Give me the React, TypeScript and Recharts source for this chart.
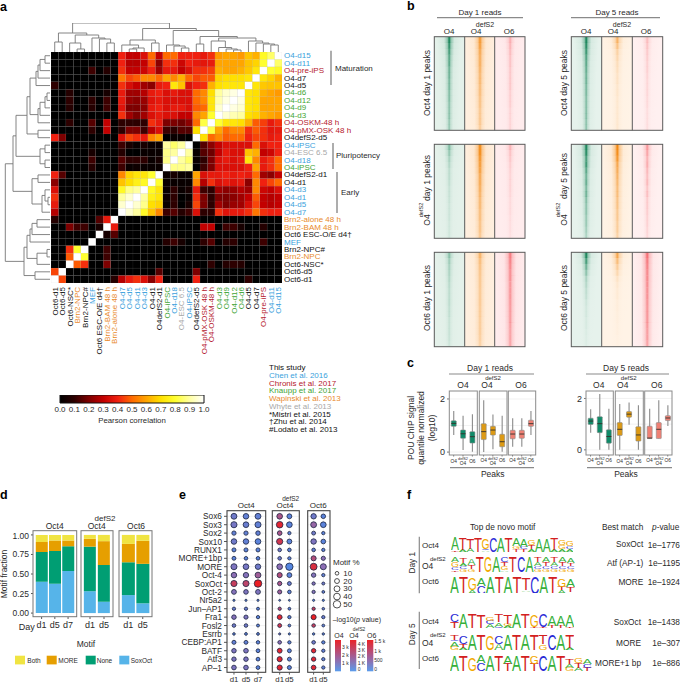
import React from 'react';
import { ScatterChart, Scatter, XAxis, YAxis, ZAxis, Cell, BarChart, Bar, CartesianGrid } from 'recharts';

const FONT = '"Liberation Sans", Arial, sans-serif';
const INK = '#2a2a2a';
const BLUE = '#3a9fdc', RED = '#b5202e', GREEN = '#3fa535', ORANGE = '#e98a2c', GREY = '#a8a8a8', BLACK = '#111';

// ---------- Panel a data ----------
const heatLabels = ['O4-d15','O4-d11','O4-pre-iPS','O4-d7','O4-d5','O4-d6','O4-d12','O4-d9','O4-d3','O4-OSKM-48 h','O4-pMX-OSK 48 h','O4defS2-d5','O4-iPSC','O4-ESC 6.5','O4-d18','O4-iPSC','O4defS2-d1','O4-d1','O4-d3','O4-d1','O4-d5','O4-d7','Brn2-alone 48 h','Brn2-BAM 48 h','Oct6 ESC-O/E d4†','MEF','Brn2-NPC#','Brn2-NPC','Oct6-NSC*','Oct6-d5','Oct6-d1'];
const heatLabelColors = [BLUE,BLUE,RED,BLACK,BLACK,GREEN,GREEN,GREEN,GREEN,RED,RED,BLACK,BLUE,GREY,BLUE,GREEN,BLACK,BLACK,BLUE,BLUE,BLUE,BLUE,ORANGE,ORANGE,BLACK,BLUE,BLACK,ORANGE,BLACK,BLACK,BLACK];
const heatUpper = [
  [100,85,78,62,65,58,60,60,58,42,38,40,40,40,50,50,30,50,35,30,30,40,0,0,0,0,0,0,0,0,0],
  [100,80,68,65,60,60,60,60,38,37,38,40,32,42,42,22,45,30,28,28,40,0,0,0,0,0,0,0,0,0],
  [100,72,66,62,60,60,62,44,42,42,35,30,38,38,25,40,32,30,30,42,0,8,0,12,0,0,0,0,0],
  [100,72,70,70,70,68,48,48,45,50,62,55,60,50,55,55,48,45,52,0,0,0,0,0,0,0,0,0],
  [100,72,72,72,70,62,42,40,35,65,72,40,38,22,25,30,34,42,0,0,0,0,0,0,0,0,10],
  [100,97,95,90,70,55,50,35,35,38,35,40,38,28,25,25,38,0,5,0,0,0,0,8,0,0],
  [100,97,92,72,55,50,35,35,35,35,38,36,24,22,24,38,0,12,0,10,0,0,10,0,0],
  [100,95,72,50,48,35,38,38,35,40,38,22,20,20,36,0,12,0,8,0,0,8,0,0],
  [100,80,60,55,30,30,35,35,38,35,25,20,25,42,0,0,0,0,0,0,0,0,0],
  [100,82,50,22,18,20,20,38,42,10,10,10,10,0,30,0,15,0,0,10,0,0],
  [100,70,15,15,10,12,35,28,12,20,20,10,0,30,0,10,0,0,0,0,0],
  [100,0,2,2,0,60,55,38,42,45,35,0,0,0,0,0,0,0,20,40],
  [100,90,85,90,2,2,5,2,5,12,0,0,0,0,0,0,0,0,0],
  [100,90,88,2,2,2,0,0,8,0,0,0,5,0,0,0,0,0],
  [100,88,5,2,10,10,10,15,0,0,0,12,0,0,0,0,0],
  [100,2,2,2,3,2,12,0,0,0,8,0,0,0,0,0],
  [100,80,72,72,68,55,0,0,0,0,0,0,0,15,40],
  [100,78,75,70,65,0,0,0,0,0,0,0,0,22],
  [100,90,88,78,0,0,0,0,0,0,0,0,35],
  [100,95,90,0,0,0,0,0,0,0,0,42],
  [100,95,0,0,0,0,0,0,0,0,38],
  [100,0,0,0,0,0,0,0,0,28],
  [100,38,15,0,0,0,0,0,8],
  [100,5,0,12,12,20,0,0],
  [100,0,0,0,0,0,0],
  [100,0,0,0,0,0],
  [100,80,42,0,0],
  [100,48,0,0],
  [100,0,0],
  [100,45],
  [100],
];
// merges: left position, left height, right position, right height, join height
const topMerges = [
  [0,0,1,0,10],[3,0,4,0,3],[2,0,3.5,3,9],[7,0,8,0,9],[6,0,7.5,9,13],[5,0,6.75,13,14],[2.75,9,5.9,14,17],[0.5,10,4.3,17,19],
  [10,0,11,0,3],[10.5,3,12,0,4],[9,0,11.25,4,7],[13,0,14,0,9],[10.1,7,13.5,9,12],
  [17,0,18,0,4],[16,0,17.5,4,6],[15,0,16.75,6,7],[19,0,20,0,8],
  [24,0,25,0,2],[23,0,24.5,2,3],[22,0,23.75,3,4.5],[21,0,22.9,4.5,11],
  [29,0,30,0,7],[28,0,29.5,7,8],[27,0,28.75,8,9],[26,0,27.9,9,11],[22,11,27,11,14],[19.5,8,24.5,14,15.5],[15.9,7,22,15.5,21.5],[11.8,12,19,21.5,23.5],[2.4,19,15.4,23.5,29],
];
const leftMerges = [
  [0,0,1,0,5],[0.5,5,2,0,10],[1.25,10,3,0,12],[2.1,12,4,0,14],
  [5,0,6,0,3],[5.5,3,7,0,5],[6.25,5,8,0,10],[7.1,10,9,0,12],[10,0,11,0,12],
  [3,14,7.9,12,20],[5.5,20,10.5,12,23],[12,0,13,0,5],[14,0,15,0,5],[12.5,5,14.5,5,10],[8,23,13.5,10,34],
  [16,0,17,0,12],[19,0,20,0,2],[18,0,19.5,2,5],[18.75,5,21,0,8],[16.5,12,19.9,8,18],[10.75,34,18.2,18,37],
  [22,0,23,0,13],[22.5,13,24,0,18],[23.25,18,25,0,20],[26,0,27,0,3],[26.5,3,28,0,13],[24.1,20,27.2,13,23],[29,0,30,0,15],[25.7,23,29.5,15,26],[14.5,37,27.6,26,44.7],
];
const colorbarTicks = [0,0.1,0.2,0.3,0.4,0.5,0.6,0.7,0.8,0.9,1];
const studies = [['This study',BLACK],['Chen et al. 2016',BLUE],['Chronis et al. 2017',RED],['Knaupp et al. 2017',GREEN],['Wapinski et al. 2013',ORANGE],['Whyte et al. 2013',GREY],['*Mistri et al. 2015',BLACK],['†Zhu et al. 2014',BLACK],['#Lodato et al. 2013',BLACK]];

// ---------- Panel b data: peak signal by rank bin, top to bottom ----------
const peakSpreadNarrow = [0.85,0.8,0.78,0.75,0.72,0.72,0.7,0.7,0.7,0.68,0.68,0.68,0.66,0.66,0.65,0.65];
const peakSpreadWide = [1,1,1,0.98,0.98,0.96,0.96,0.95,0.95,0.95,0.95,0.93,0.93,0.92,0.92,0.9];
const b11 = [1,.9,.8,.7,.7,.6,.6,.55,.55,.5,.5,.45,.45,.45,.4,.4];
const b12 = [.85,.8,.7,.65,.65,.6,.55,.55,.5,.5,.45,.45,.4,.4,.4,.35];
const b13 = [.5,.45,.4,.35,.35,.3,.3,.3,.3,.25,.25,.25,.2,.2,.2,.2];
const b14 = [1,.95,.85,.75,.7,.65,.6,.6,.55,.55,.5,.5,.5,.5,.45,.45];
const b15 = [.6,.45,.3,.25,.2,.18,.15,.15,.12,.12,.1,.1,.1,.1,.1,.1];
const b16 = [.4,.35,.3,.28,.25,.25,.22,.2,.2,.2,.18,.18,.15,.15,.15,.15];
const b21 = [.5,.4,.3,.25,.2,.2,.18,.15,.15,.14,.12,.12,.12,.1,.1,.1];
const b22 = [1,1,.9,.85,.8,.7,.7,.65,.6,.55,.55,.5,.5,.45,.45,.4];
const b23 = [.45,.35,.3,.25,.22,.2,.2,.2,.18,.15,.15,.15,.12,.12,.12,.1];
const b24 = [1,.95,.8,.85,.7,.6,.65,.55,.6,.5,.45,.45,.4,.4,.35,.3];
const b25 = [1,.95,.85,.7,.65,.6,.55,.5,.5,.45,.45,.4,.4,.35,.35,.3];
const b26 = [.7,.6,.5,.55,.45,.4,.45,.35,.4,.3,.3,.28,.25,.25,.22,.2];
const b31 = [.45,.35,.3,.28,.25,.22,.2,.2,.2,.18,.18,.15,.15,.15,.14,.12];
const b32 = [.6,.5,.45,.42,.4,.4,.38,.38,.38,.36,.36,.35,.35,.35,.32,.3];
const b33 = [.9,.85,.8,.75,.75,.7,.7,.7,.68,.66,.65,.65,.62,.6,.6,.58];
const b34 = [1,.8,.6,.45,.3,.25,.2,.18,.12,.1,.1,.08,.08,.06,.05,.05];
const b35 = [.7,.5,.35,.25,.15,.1,.08,.08,.05,.05,.04,.04,.03,.03,.02,.02];
const b36 = [1,.9,.85,.8,.8,.78,.75,.75,.72,.7,.7,.7,.68,.65,.65,.6];

// ---------- Panel c data: low, q1, median, q3, high ----------
const boxPeaks = ['O4','dO4','O6'];
const c1a = [[.64,.97,1.08,1.18,1.55],[.08,.52,.69,.83,1.37],[.01,.34,.58,.77,1.42]];
const c1b = [[0,.47,.77,1.07,1.95],[.11,.64,.83,.97,1.42],[.01,.2,.39,.67,1.37]];
const c1c = [[.2,.5,.68,.82,1.27],[.2,.52,.68,.82,1.27],[.64,.97,1.07,1.2,1.55]];
const c2a = [[.67,.99,1.12,1.23,1.58],[0,.67,1.02,1.29,2.17],[0,.26,.52,.78,1.6]];
const c2b = [[0,.56,.8,1.06,1.78],[.98,1.27,1.39,1.49,1.84],[0,.34,.58,.9,1.74]];
const c2c = [[.44,.44,.46,.92,1.6],[.44,.44,.8,1.06,1.93],[.93,1.14,1.24,1.33,1.74]];

// ---------- Panel d data ----------
const motifClasses = ['soxoct','none','more','both'];
const dOct4 = [{ day:'d1', soxoct:.40, none:.38, more:.13, both:.09 },{ day:'d5', soxoct:.375, none:.42, more:.135, both:.07 },{ day:'d7', soxoct:.54, none:.315, more:.075, both:.07 }];
const dDefS2 = [{ day:'d1', soxoct:.28, none:.57, more:.10, both:.05 },{ day:'d5', soxoct:.145, none:.47, more:.305, both:.08 }];
const dOct6 = [{ day:'d1', soxoct:.23, none:.42, more:.235, both:.115 },{ day:'d5', soxoct:.125, none:.505, more:.295, both:.075 }];

// ---------- Panel e data ----------
const motifNames = ['Sox6','Sox3','Sox2','Sox10','RUNX1','MORE+1bp','MORE','Oct-4','SoxOct','Oct-2','Nr5a2','Jun–AP1','Fra1','Fosl2','Esrrb','CEBP:AP1','BATF','Atf3','AP–1'];
const pctOct4 = [[30,27,30],[33,28,32],[15,15,17],[27,26,28],[13,13,13],[12,10,10],[32,28,26],[26,25,30],[33,33,50],[20,18,20],[2,2,2],[8,8,6],[17,14,8],[10,10,6],[4,5,5],[13,12,9],[17,18,11],[16,17,11],[18,18,11]];
const sigOct4 = [[.3,.2,.2],[.35,.25,.2],[.2,.2,.2],[.3,.2,.15],[.15,.15,.15],[.15,.15,.15],[.4,.35,.3],[.5,.45,.6],[.8,.75,1],[.45,.4,.4],[.1,.1,.1],[.25,.25,.15],[.45,.4,.15],[.3,.3,.15],[.15,.15,.15],[.2,.2,.15],[.4,.4,.15],[.4,.4,.15],[.4,.4,.15]];
const pctDefS2 = [[28,20],[38,28],[18,8],[34,20],[10,10],[10,8],[28,48],[22,20],[15,12],[14,10],[1,1],[8,5],[20,8],[12,5],[2,2],[10,8],[20,12],[22,12],[23,13]];
const sigDefS2 = [[.65,.15],[.95,.15],[.65,.15],[.85,.15],[.3,.15],[.3,.15],[.5,.1],[.7,.15],[.65,.25],[.6,.15],[.1,.1],[.7,.15],[.95,.15],[.85,.15],[.3,.1],[.5,.15],[.95,.15],[.95,.15],[.95,.15]];
const pctOct6 = [[25,17],[30,28],[12,8],[26,18],[10,8],[22,14],[42,32],[16,8],[8,6],[8,5],[2,2],[8,4],[22,8],[10,5],[3,3],[10,8],[16,8],[16,8],[18,8]];
const sigOct6 = [[.3,.15],[.55,.15],[.3,.15],[.4,.15],[.2,.15],[.7,.5],[.9,.5],[.45,.2],[.45,.3],[.45,.2],[.1,.1],[.8,.25],[1,.25],[.8,.2],[.15,.15],[.3,.15],[.95,.2],[.95,.2],[.95,.2]];
const sizeLegend = [10,20,30,40,50];

// ---------- Panel f data: each position lists letter and height, tallest first ----------
const logo1 = [[['A',.85],['T',.1]],[['T',.8],['A',.15]],[['T',.72],['A',.22]],[['T',.95]],[['G',.7],['C',.1],['A',.1]],[['C',1]],[['A',1]],[['T',1]],[['A',.55],['G',.2],['T',.2]],[['A',.55],['C',.15],['T',.2]],[['G',.35],['T',.25],['A',.2]],[['A',.9]],[['A',.9]],[['T',.8],['A',.15]],[['G',.32],['G',.28],['A',.2]],[['G',.35],['C',.2],['A',.2]]];
const logo2 = [[['A',.3],['G',.3],['C',.2],['T',.1]],[['T',.35],['A',.2],['C',.2],['G',.15]],[['A',.4],['T',.25],['G',.2]],[['T',1]],[['G',1]],[['A',1]],[['C',.3],['T',.25],['G',.25],['A',.1]],[['T',1]],[['C',1]],[['A',1]],[['T',.3],['A',.25],['C',.2],['G',.15]],[['A',.3],['T',.25],['C',.2],['G',.15]],[['T',.3],['A',.25],['C',.2],['G',.15]],[['A',.3],['T',.25],['C',.2],['G',.15]],[['A',.3],['T',.2],['C',.2],['G',.15]]];
const logo3 = [[['A',1]],[['T',1]],[['G',.7],['A',.2]],[['A',.5],['C',.45]],[['A',1]],[['T',1]],[['A',1]],[['T',1]],[['T',.75],['A',.1],['C',.1]],[['C',1]],[['A',1]],[['T',1]],[['G',.5],['T',.2],['A',.2]],[['A',.5],['T',.3],['C',.1]]];
const logo4 = [[['C',.55],['T',.4]],[['A',.95]],[['T',.95]],[['T',.9]],[['G',.3],['C',.25],['A',.25]],[['T',.5],['A',.3],['C',.1]],[['T',.6],['G',.15],['A',.15]],[['A',1]],[['T',1]],[['G',.75],['T',.1]],[['C',.85],['T',.1]],[['A',.7],['T',.15]],[['A',.7],['T',.15]],[['A',.75],['T',.1]]];
const logo5 = [[['T',.3],['C',.1],['A',.35],['G',.2]],[['C',.5],['T',.25],['A',.15]],[['A',1]],[['T',1]],[['G',.9]],[['C',.5],['A',.4]],[['A',1]],[['T',1]],[['A',1]],[['T',1]],[['T',.55],['G',.35]],[['C',1]],[['A',1]],[['T',.8],['A',.15]]];
const logo6 = [[['A',1]],[['T',1]],[['G',.85]],[['A',.45],['C',.5]],[['A',1]],[['T',1]],[['A',.5],['T',.45]],[['A',1]],[['T',1]],[['G',.5],['T',.45]],[['C',1]],[['A',1]],[['T',1]],[['T',.3],['A',.25],['G',.2]],[['G',.35],['T',.3],['A',.2]],[['A',.3],['C',.25],['T',.2]]];

// ---------- Helpers ----------
const NOM = { top: 0, right: 0, bottom: 0, left: 0 };
const Box = ({ l, t, children }: any) => <div style={{ position: 'absolute', left: l, top: t }}>{children}</div>;

const heatStops: [number, number[]][] = [[0,[0,0,0]],[.1,[45,0,0]],[.2,[125,0,0]],[.3,[195,0,0]],[.4,[240,32,16]],[.5,[255,106,0]],[.6,[255,165,0]],[.7,[255,224,0]],[.8,[255,255,48]],[.9,[255,255,160]],[1,[255,255,255]]];
function heatColor(v: number) {
  for (let i = 1; i < heatStops.length; i++) {
    if (v <= heatStops[i][0]) {
      const [a, ca] = heatStops[i - 1]; const [b, cb] = heatStops[i];
      const t = (v - a) / (b - a);
      return `rgb(${ca.map((c, j) => Math.round(c + (cb[j] - c) * t)).join(',')})`;
    }
  }
  return '#fff';
}
function sigColor(t: number) {
  const a = [70,140,235], m = [140,110,180], b = [235,30,35];
  const [p, q, u] = t < .5 ? [a, m, t * 2] : [m, b, (t - .5) * 2];
  return `rgb(${p.map((c, j) => Math.round(c + (q[j] - c) * u)).join(',')})`;
}

const heatCells: any[] = [];
heatUpper.forEach((row, i) => row.forEach((v, off) => {
  const k = i + off;
  heatCells.push({ col: 30 - k, row: i, v: v / 100 });
  if (k !== i) heatCells.push({ col: 30 - i, row: k, v: v / 100 });
}));
const idx31 = heatLabels.map((_, i) => i);

const Heatmap = () => {
  const cell = 231 / 31;
  return (
    <ScatterChart width={231 + 100} height={231 + 92} margin={{ top: 0, right: 38, bottom: 0, left: 0 }}>
      <XAxis type="number" dataKey="col" domain={[-.5, 30.5]} ticks={idx31} interval={0} axisLine={false} tickLine={false} height={92} allowDataOverflow
        tick={(p: any) => { const lab = 30 - p.payload.value; return <text x={p.x + 0.5} y={p.y - 4} transform={`rotate(-90 ${p.x + 0.5} ${p.y - 4})`} textAnchor="end" dominantBaseline="central" fontSize={8} fontFamily={FONT} fill={heatLabelColors[lab]}>{heatLabels[lab]}</text>; }} />
      <YAxis type="number" dataKey="row" orientation="right" reversed domain={[-.5, 30.5]} ticks={idx31} interval={0} axisLine={false} tickLine={false} tickSize={0} tickMargin={0} width={62} allowDataOverflow
        tick={(p: any) => <text x={p.x + 2} y={p.y} dominantBaseline="central" fontSize={8} fontFamily={FONT} fill={heatLabelColors[p.payload.value]}>{heatLabels[p.payload.value]}</text>} />
      <Scatter data={heatCells} isAnimationActive={false}
        shape={(p: any) => <rect x={p.cx - cell / 2} y={p.cy - cell / 2} width={cell} height={cell} fill={heatColor(p.payload.v)} stroke="#777" strokeOpacity={.18} strokeWidth={.4} />} />
    </ScatterChart>
  );
};

const Dendro = ({ merges, w, h, horizontal }: any) => (
  <ScatterChart width={w} height={h} margin={NOM}>
    {horizontal
      ? <XAxis type="number" dataKey="x" domain={[-.5, 30.5]} hide />
      : <XAxis type="number" dataKey="x" domain={[0, 50]} reversed hide />}
    {horizontal
      ? <YAxis type="number" dataKey="y" domain={[0, 29]} hide />
      : <YAxis type="number" dataKey="y" domain={[-.5, 30.5]} reversed hide />}
    {merges.map((m: number[], i: number) => {
      const pts = horizontal
        ? [{ x: m[0], y: m[1] }, { x: m[0], y: m[4] }, { x: m[2], y: m[4] }, { x: m[2], y: m[3] }]
        : [{ x: m[1], y: m[0] }, { x: m[4], y: m[0] }, { x: m[4], y: m[2] }, { x: m[3], y: m[2] }];
      return <Scatter key={i} data={pts} line={{ stroke: '#777', strokeWidth: .9 }} lineType="joint" shape={() => <g />} isAnimationActive={false} />;
    })}
  </ScatterChart>
);

const ColorBar = () => (
  <BarChart width={160} height={22} layout="vertical" data={[{ name: 'r', span: [0, 1] }]} margin={{ top: 0, right: 8, bottom: 0, left: 8 }} barCategoryGap={0}>
    <XAxis type="number" domain={[0, 1]} ticks={colorbarTicks} interval={0} axisLine={false} tickSize={2} tickLine={false} height={14}
      tick={(p: any) => <text x={p.x} y={p.y + 2} textAnchor="middle" dominantBaseline="central" fontSize={8} fontFamily={FONT} fill={INK}>{p.payload.value.toFixed(1)}</text>} />
    <YAxis type="category" dataKey="name" hide />
    <Bar dataKey="span" fill="url(#heatGrad)" stroke="#111" strokeWidth={1} isAnimationActive={false} />
  </BarChart>
);

const Tornado = ({ l, t, w, h, vals, grad, spread, bg }: any) => {
  const data = vals.map((v: number, i: number) => ({ rank: i, band: [-spread[i], spread[i]], op: v }));
  return (
    <Box l={l} t={t}>
      <div style={{ width: w, height: h, background: bg }}>
        <BarChart width={w} height={h} layout="vertical" data={data} margin={NOM} barCategoryGap={0}>
          <XAxis type="number" domain={[-1, 1]} hide />
          <YAxis type="category" dataKey="rank" hide />
          <Bar dataKey="band" fill={`url(#${grad})`} isAnimationActive={false}>
            {data.map((d: any, i: number) => <Cell key={i} fill={`url(#${grad})`} fillOpacity={d.op} />)}
          </Bar>
        </BarChart>
      </div>
    </Box>
  );
};

const BoxShape = (p: any) => {
  const { x, y, width, height, payload, color } = p;
  if (!(height > 0)) return <g />;
  const k = height / (payload.hi - payload.lo);
  const Y = (v: number) => y + (payload.hi - v) * k;
  const cx = x + width / 2;
  return (
    <g>
      <line x1={cx} x2={cx} y1={y} y2={y + height} stroke="#8a8a8a" strokeWidth={1.1} />
      <rect x={x} y={Y(payload.q3)} width={width} height={Y(payload.q1) - Y(payload.q3)} fill={color} stroke="#8a8a8a" strokeWidth={.6} rx={.6} />
      <line x1={x} x2={x + width} y1={Y(payload.med)} y2={Y(payload.med)} stroke="#33302a" strokeWidth={.9} />
    </g>
  );
};

const BoxFacet = ({ l, t, w, h, rows, color, axis, domain, yw }: any) => {
  const data = rows.map((r: number[], i: number) => ({ peak: boxPeaks[i], range: [r[0], r[4]], lo: r[0], q1: r[1], med: r[2], q3: r[3], hi: r[4] }));
  return (
    <Box l={l - (axis ? yw : 0)} t={t}>
      <BarChart width={w + (axis ? yw : 0)} height={h + 16} data={data} margin={NOM} barCategoryGap="24%">
        <CartesianGrid vertical={false} horizontalValues={[0, .5, 1, 1.5, 2]} stroke="#ececec" strokeWidth={.7} />
        <XAxis dataKey="peak" height={16} interval={0} axisLine={false} tickLine={{ stroke: '#777' }} tickSize={1.5} tickMargin={0}
          tick={(p: any) => p.payload.value === 'dO4'
            ? <g><text x={p.x} y={p.y + 2.5} textAnchor="middle" dominantBaseline="central" fontSize={3.8} fontFamily={FONT} fill={INK}>defS2</text><text x={p.x} y={p.y + 7} textAnchor="middle" dominantBaseline="central" fontSize={4.8} fontFamily={FONT} fill={INK}>O4</text></g>
            : <text x={p.x} y={p.y + 4.5} textAnchor="middle" dominantBaseline="central" fontSize={4.8} fontFamily={FONT} fill={INK}>{p.payload.value}</text>} />
        <YAxis type="number" domain={domain} ticks={[0, 2]} allowDataOverflow hide={!axis} width={yw} axisLine={false} tickSize={2} tickLine={{ stroke: '#777' }}
          tick={{ fontSize: 9, fontFamily: FONT, fill: INK }} />
        <Bar dataKey="range" isAnimationActive={false}
          shape={(p: any) => <BoxShape {...p} color={color} />} />
      </BarChart>
    </Box>
  );
};

const stackColors: any = { soxoct: '#56b4e9', none: '#009e73', more: '#e69f00', both: '#f0e442' };
const StackFacet = ({ l, t, w, h, data, axis, yw }: any) => (
  <Box l={l - (axis ? yw : 0)} t={t}>
    <BarChart width={w + (axis ? yw : 0)} height={h + 22} data={data} margin={NOM} barCategoryGap="6%">
      <XAxis dataKey="day" height={22} interval={0} padding={{ left: 2, right: 2 }} axisLine={false} tickSize={2} tickLine={{ stroke: '#555' }}
        tick={(p: any) => <text x={p.x} y={p.y + 4} textAnchor="middle" dominantBaseline="central" fontSize={9} fontFamily={FONT} fill={INK}>{p.payload.value}</text>} />
      <YAxis type="number" domain={[-.05, 1.05]} ticks={[0, .25, .5, .75, 1]} allowDataOverflow hide={!axis} width={yw} axisLine={false} tickSize={2} tickLine={{ stroke: '#555' }}
        tickFormatter={(v: number) => v.toFixed(2)} tick={{ fontSize: 8.5, fontFamily: FONT, fill: INK }} />
      {motifClasses.map(c => <Bar key={c} dataKey={c} stackId="m" fill={stackColors[c]} isAnimationActive={false} />)}
    </BarChart>
  </Box>
);

const BubbleFacet = ({ l, t, w, h, pct, sig, days, domain, axis, yw }: any) => {
  const data: any[] = [];
  pct.forEach((row: number[], r: number) => row.forEach((v, c) => data.push({ c, r, pct: v, sig: sig[r][c] })));
  return (
    <Box l={l - (axis ? yw : 0)} t={t}>
      <ScatterChart width={w + (axis ? yw : 0)} height={h + 14} margin={NOM}>
        <CartesianGrid stroke="#ececec" strokeWidth={.7} horizontalValues={motifNames.map((_, i) => i)} verticalValues={days.map((_: string, i: number) => i)} />
        <XAxis type="number" dataKey="c" domain={domain} ticks={days.map((_: string, i: number) => i)} interval={0} height={14} axisLine={false} tickSize={2} tickLine={{ stroke: '#555' }} allowDataOverflow
          tick={(p: any) => <text x={p.x} y={p.y + 3} textAnchor="middle" dominantBaseline="central" fontSize={7.8} fontFamily={FONT} fill={INK}>{days[p.payload.value]}</text>} />
        <YAxis type="number" dataKey="r" reversed domain={[-.63, 18.6]} ticks={motifNames.map((_, i) => i)} interval={0} hide={!axis} width={yw} axisLine={false} tickSize={3} tickLine={{ stroke: '#555' }} allowDataOverflow
          tick={(p: any) => <text x={p.x} y={p.y} textAnchor="end" dominantBaseline="central" fontSize={8.3} fontFamily={FONT} fill={INK}>{motifNames[p.payload.value]}</text>} />
        <ZAxis type="number" dataKey="pct" domain={[0, 50]} range={[2, 44]} />
        <Scatter data={data} isAnimationActive={false}
          shape={(p: any) => <circle cx={p.cx} cy={p.cy} r={Math.sqrt(p.size / Math.PI)} fill={sigColor(p.payload.sig)} stroke="#1c2440" strokeWidth={.8} />} />
      </ScatterChart>
    </Box>
  );
};

const letterColor: any = { A: '#36b03a', C: '#2b2bd6', G: '#f2a900', T: '#d32020' };
const letterWidth: any = { A: .667, C: .722, G: .778, T: .611 };
const Logo = ({ l, t, w, h, motif }: any) => {
  const data = motif.map((stack: any[], i: number) => {
    const row: any = { pos: i };
    [...stack].reverse().forEach((s, k) => { row[`h${k}`] = s[1]; row[`l${k}`] = s[0]; });
    return row;
  });
  return (
    <Box l={l} t={t}>
      <BarChart width={w} height={h} data={data} margin={NOM} barCategoryGap={0}>
        <XAxis dataKey="pos" hide />
        <YAxis type="number" domain={[0, 1]} hide />
        {[0, 1, 2, 3].map(k => (
          <Bar key={k} dataKey={`h${k}`} stackId="s" isAnimationActive={false}
            shape={(p: any) => {
              const ch = p.payload[`l${k}`];
              if (!ch || !(p.height > 0)) return <g />;
              const sx = p.width / (letterWidth[ch] * 10), sy = p.height / 7.2;
              return <text transform={`translate(${p.x},${p.y + p.height}) scale(${sx},${sy})`} fontSize={10} fontFamily={FONT} fill={letterColor[ch]}>{ch}</text>;
            }} />
        ))}
      </BarChart>
    </Box>
  );
};

// ---------- Overlay annotation ----------
const T = ({ x, y, s, fs = 8.5, a = 'middle', rot, fill = INK, w, it }: any) => (
  <text x={x} y={y} fontSize={fs} fontFamily={FONT} textAnchor={a} dominantBaseline="central" fill={fill} fontWeight={w} fontStyle={it}
    transform={rot ? `rotate(${rot} ${x} ${y})` : undefined}>{s}</text>
);
const Ln = ({ x1, y1, x2, y2, c = '#8a8a8a', sw = 1.2 }: any) => <line x1={x1} y1={y1} x2={x2} y2={y2} stroke={c} strokeWidth={sw} />;
const Fr = ({ x, y, w, h, c = '#5a5a5a', sw = 1 }: any) => <rect x={x} y={y} width={w} height={h} fill="none" stroke={c} strokeWidth={sw} />;

const bY = [[36.7, 93.6], [144.3, 94], [252.3, 94.4]];
const bLeftX = [434.3, 464.7, 494.7], bLeftW = [30.4, 30, 30.3];
const bRightX = [571.3, 601.7, 632.3], bRightW = [30.4, 30.6, 30.4];
const bVals = [[b11, b12, b13, b14, b15, b16], [b21, b22, b23, b24, b25, b26], [b31, b32, b33, b34, b35, b36]];
const bGrad = ['gGreen', 'gOrange', 'gPink'];
const bBg = ['#e4f1ea', '#ffefdf', '#ffeced'];
const bBgLight = ['#e6f2ec', '#fff3e6', '#fff0f0'];

export default function App() {
  return (
    <div style={{ position: 'absolute', left: 0, top: 0, width: 680, height: 685, background: '#fff', overflow: 'hidden', fontFamily: FONT }}>
      <svg width={0} height={0} style={{ position: 'absolute' }}>
        <defs>
          <linearGradient id="heatGrad" x1="0" x2="1" y1="0" y2="0">
            {heatStops.map(([o, c]) => <stop key={o} offset={o} stopColor={`rgb(${c.join(',')})`} />)}
          </linearGradient>
          {[['gGreen', '#0b7d4f'], ['gOrange', '#f28205'], ['gPink', '#f4666c']].map(([id, c]) => (
            <linearGradient key={id} id={id} x1="0" x2="1" y1="0" y2="0">
              <stop offset="0" stopColor={c} stopOpacity={0} />
              <stop offset=".3" stopColor={c} stopOpacity={.07} />
              <stop offset=".43" stopColor={c} stopOpacity={.38} />
              <stop offset=".5" stopColor={c} stopOpacity={1} />
              <stop offset=".57" stopColor={c} stopOpacity={.38} />
              <stop offset=".7" stopColor={c} stopOpacity={.07} />
              <stop offset="1" stopColor={c} stopOpacity={0} />
            </linearGradient>
          ))}
          <linearGradient id="legendGrad" x1="0" x2="0" y1="0" y2="1">
            <stop offset="0" stopColor="#ea2327" /><stop offset=".55" stopColor="#a0609a" /><stop offset="1" stopColor="#5a9cec" />
          </linearGradient>
        </defs>
      </svg>

      {/* a */}
      <Box l={51} t={52}><Heatmap /></Box>
      <Box l={51} t={23}><Dendro merges={topMerges} w={231} h={29} horizontal /></Box>
      <Box l={0} t={52}><Dendro merges={leftMerges} w={50} h={231} /></Box>
      <Box l={52} t={395}><ColorBar /></Box>

      {/* b */}
      {bVals.map((row, r) => row.map((vals, i) => {
        const col = i % 3; const right = i >= 3;
        const wide = col === 1 || (r === 2 && col === 2);
        return <Tornado key={`${r}-${i}`} l={right ? bRightX[col] : bLeftX[col]} t={bY[r][0]} w={right ? bRightW[col] : bLeftW[col]} h={bY[r][1]} vals={vals} grad={bGrad[col]} spread={wide ? peakSpreadWide : peakSpreadNarrow} bg={right ? bBgLight[col] : bBg[col]} />;
      }))}

      {/* c */}
      <BoxFacet l={449.3} t={391} w={28} h={64} rows={c1a} color="#0f8a68" axis yw={12} domain={[-.11, 2.3]} />
      <BoxFacet l={479.3} t={391} w={27.7} h={64} rows={c1b} color="#dd9a14" domain={[-.11, 2.3]} />
      <BoxFacet l={508.3} t={391} w={27.4} h={64} rows={c1c} color="#ef8074" domain={[-.11, 2.3]} />
      <BoxFacet l={586} t={391} w={27.3} h={64} rows={c2a} color="#0f8a68" axis yw={12} domain={[-.2, 2.29]} />
      <BoxFacet l={615.3} t={391} w={28} h={64} rows={c2b} color="#dd9a14" domain={[-.2, 2.29]} />
      <BoxFacet l={644.7} t={391} w={27.3} h={64} rows={c2c} color="#ef8074" domain={[-.2, 2.29]} />

      {/* d */}
      <StackFacet l={33} t={530.7} w={43.7} h={86} data={dOct4} axis yw={33} />
      <StackFacet l={81} t={530.7} w={32} h={86} data={dDefS2} />
      <StackFacet l={119} t={530.7} w={33} h={86} data={dOct6} />

      {/* e */}
      <BubbleFacet l={227} t={510.7} w={38.7} h={161.6} pct={pctOct4} sig={sigOct4} days={['d1', 'd5', 'd7']} domain={[-.58, 2.64]} axis yw={67} />
      <BubbleFacet l={272.3} t={510.7} w={27} h={161.6} pct={pctDefS2} sig={sigDefS2} days={['d1', 'd5']} domain={[-.79, 1.99]} />
      <BubbleFacet l={307.7} t={510.7} w={22.3} h={161.6} pct={pctOct6} sig={sigOct6} days={['d1', 'd5']} domain={[-.58, 1.72]} />

      {/* f */}
      <Logo l={451} t={536.7} w={122.3} h={15} motif={logo1} />
      <Logo l={451} t={556} w={124} h={15.7} motif={logo2} />
      <Logo l={450} t={576.7} w={125} h={16.6} motif={logo3} />
      <Logo l={450} t={613.3} w={124} h={15} motif={logo4} />
      <Logo l={450} t={634} w={124} h={16} motif={logo5} />
      <Logo l={450} t={655} w={141.7} h={16} motif={logo6} />

      <svg width={680} height={685} style={{ position: 'absolute', left: 0, top: 0, pointerEvents: 'none' }}>
        {/* panel letters */}
        <T x={0} y={7} s="a" fs={12.5} a="start" w="bold" fill="#000" />
        <T x={407} y={6} s="b" fs={12.5} a="start" w="bold" fill="#000" />
        <T x={407} y={363} s="c" fs={12.5} a="start" w="bold" fill="#000" />
        <T x={0} y={495} s="d" fs={12.5} a="start" w="bold" fill="#000" />
        <T x={179} y={495} s="e" fs={12.5} a="start" w="bold" fill="#000" />
        <T x={407} y={495} s="f" fs={12.5} a="start" w="bold" fill="#000" />

        {/* a annotations */}
        <Ln x1={331} y1={50.7} x2={331} y2={85} sw={1.4} />
        <T x={335} y={68} s="Maturation" fs={8} a="start" />
        <Ln x1={333} y1={143} x2={333} y2={169} sw={1.4} />
        <T x={336} y={155} s="Pluripotency" fs={8} a="start" />
        <Ln x1={337} y1={172} x2={337} y2={213} sw={1.4} />
        <T x={341} y={192} s="Early" fs={8} a="start" />
        <T x={132} y={420} s="Pearson correlation" fs={7.8} />
        {studies.map(([s, c], i) => <T key={s} x={269} y={367.7 + i * 7.75} s={s} fs={8} a="start" fill={c} />)}

        {/* b annotations */}
        <T x={480} y={12} s="Day 1 reads" fs={8} />
        <Ln x1={437} y1={17.7} x2={523} y2={17.7} />
        <T x={617} y={12} s="Day 5 reads" fs={8} />
        <Ln x1={571} y1={17.7} x2={660} y2={17.7} />
        <T x={449} y={31} s="O4" fs={8} /><T x={485} y={24} s="defS2" fs={7} /><T x={476} y={31} s="O4" fs={8} /><T x={509} y={31} s="O6" fs={8} />
        <T x={586} y={31} s="O4" fs={8} /><T x={622} y={24} s="defS2" fs={7} /><T x={613} y={31} s="O4" fs={8} /><T x={646} y={31} s="O6" fs={8} />
        <T x={427} y={83} s="Oct4 day 1 peaks" rot={-90} />
        <T x={427} y={178} s="day 1 peaks" rot={-90} /><T x={427} y={220} s="O4" rot={-90} /><T x={421} y={210} s="defS2" fs={5.5} rot={-90} />
        <T x={427} y={298} s="Oct6 day 1 peaks" rot={-90} />
        <T x={564} y={83} s="Oct4 day 5 peaks" rot={-90} />
        <T x={564} y={176} s="day 5 peaks" rot={-90} /><T x={564} y={220} s="O4" rot={-90} /><T x={558} y={210} s="defS2" fs={5.5} rot={-90} />
        <T x={564} y={298} s="Oct6 day 5 peaks" rot={-90} />
        {bY.map(([y, h], r) => (
          <g key={r}>
            <Fr x={434.3} y={y} w={90.7} h={h} />
            <Ln x1={464.7} y1={y} x2={464.7} y2={y + h} c="#5a5a5a" sw={1} />
            <Ln x1={494.7} y1={y} x2={494.7} y2={y + h} c="#5a5a5a" sw={1} />
            <Fr x={571.3} y={y} w={91.4} h={h} />
            <Ln x1={601.7} y1={y} x2={601.7} y2={y + h} c="#5a5a5a" sw={1} />
            <Ln x1={632.3} y1={y} x2={632.3} y2={y + h} c="#5a5a5a" sw={1} />
          </g>
        ))}

        {/* c annotations */}
        <T x={490} y={367.7} s="Day 1 reads" fs={8.5} />
        <Ln x1={449} y1={374} x2={534} y2={374} />
        <T x={626} y={367.7} s="Day 5 reads" fs={8.5} />
        <Ln x1={586} y1={374} x2={669} y2={374} />
        <T x={493} y={378} s="defS2" fs={6} /><T x={463} y={385} s="O4" fs={8.5} /><T x={487} y={385} s="O4" fs={8.5} /><T x={521} y={385} s="O6" fs={8.5} />
        <T x={628.7} y={378} s="defS2" fs={6} /><T x={598.7} y={385} s="O4" fs={8.5} /><T x={622.7} y={385} s="O4" fs={8.5} /><T x={656.7} y={385} s="O6" fs={8.5} />
        <T x={411} y={428} s="POU ChIP signal" rot={-90} /><T x={421} y={428} s="quantile normalized" rot={-90} /><T x={431.7} y={428} s="(log10)" rot={-90} />
        <Fr x={449.3} y={391} w={28} h={64} c="#8a8a8a" /><Fr x={479.3} y={391} w={27.7} h={64} c="#8a8a8a" /><Fr x={508.3} y={391} w={27.4} h={64} c="#8a8a8a" />
        <Fr x={586} y={391} w={27.3} h={64} c="#8a8a8a" /><Fr x={615.3} y={391} w={28} h={64} c="#8a8a8a" /><Fr x={644.7} y={391} w={27.3} h={64} c="#8a8a8a" />
        <Ln x1={450} y1={467.7} x2={534} y2={467.7} /><Ln x1={587} y1={467.7} x2={672} y2={467.7} />
        <T x={492.7} y={474} s="Peaks" fs={8.5} /><T x={626} y={474} s="Peaks" fs={8.5} />

        {/* d annotations */}
        <T x={4} y={574} s="Motif fraction" rot={-90} fs={8.5} />
        <T x={54.7} y={526} s="Oct4" fs={8.5} /><T x={105} y={518} s="defS2" fs={8} /><T x={96.7} y={526} s="Oct4" fs={8.5} /><T x={136} y={526} s="Oct6" fs={8.5} />
        <T x={26.7} y={627} s="Day" fs={9} />
        <Fr x={33} y={530.7} w={43.7} h={86} c="#777" /><Fr x={81} y={530.7} w={32} h={86} c="#777" /><Fr x={119} y={530.7} w={33} h={86} c="#777" />
        <T x={86} y={644} s="Motif" fs={8.5} />
        {[[15, '#f0e442', 'Both', 27.3], [46.7, '#e69f00', 'MORE', 58.3], [85.7, '#009e73', 'None', 96.7], [119.3, '#56b4e9', 'SoxOct', 130.7]].map(([x, c, s, tx]: any) => (
          <g key={s}><rect x={x} y={655.7} width={10} height={8.7} fill={c} /><T x={tx} y={660.5} s={s} fs={6.5} a="start" /></g>
        ))}

        {/* e annotations */}
        <T x={246.3} y={505.7} s="Oct4" fs={8} /><T x={290.7} y={498.5} s="defS2" fs={6.5} /><T x={285} y={505.7} s="Oct4" fs={8} /><T x={318.3} y={505.7} s="Oct6" fs={8} />
        <Fr x={227} y={510.7} w={38.7} h={161.6} c="#444" sw={1.1} /><Fr x={272.3} y={510.7} w={27} h={161.6} c="#444" sw={1.1} /><Fr x={307.7} y={510.7} w={22.3} h={161.6} c="#444" sw={1.1} />
        <T x={333} y={562.7} s="Motif %" fs={8} a="start" />
        {sizeLegend.map((v, i) => (
          <g key={v}>
            <circle cx={337} cy={573.3 + i * 7.75} r={Math.sqrt((2 + (44 - 2) * v / 50) / Math.PI)} fill="#fff" stroke="#222" strokeWidth={.8} />
            <T x={343.3} y={573.3 + i * 7.75} s={String(v)} fs={8} a="start" />
          </g>
        ))}
        <text x={332.7} y={619.3} fontSize={7} fontFamily={FONT} dominantBaseline="central" fill={INK}>–log10(<tspan fontStyle="italic">p</tspan> value)</text>
        <T x={359} y={629.7} s="defS2" fs={4.8} />
        <T x={339} y={635.7} s="O4" fs={7} /><T x={354} y={635.7} s="O4" fs={7} /><T x={371.7} y={635.7} s="O6" fs={7} />
        <rect x={335} y={640} width={6} height={31.3} fill="url(#legendGrad)" />
        <rect x={350} y={640} width={6.3} height={31.3} fill="url(#legendGrad)" />
        <rect x={367} y={640} width={6.3} height={31.3} fill="url(#legendGrad)" />
        {[['3 k', 342, 646.7], ['2 k', 342, 655], ['1 k', 342, 663], ['4 K', 357.7, 644], ['3 K', 357.7, 650], ['2 K', 357.7, 656], ['1 K', 357.7, 662.7], ['0', 357.7, 669.3], ['1.5 k', 374.3, 641.3], ['1 k', 374.3, 650.7], ['500', 374.3, 660], ['0', 374.3, 669.3]].map(([s, x, y]: any, i) => <T key={i} x={x} y={y} s={s} fs={5} a="start" />)}

        {/* f annotations */}
        <T x={502.7} y={526.7} s="Top de novo motif" fs={8.3} />
        <T x={622.7} y={526.7} s="Best match" fs={8.3} />
        <text x={665.7} y={526.7} textAnchor="middle" dominantBaseline="central" fontSize={8.3} fontFamily={FONT} fill={INK}><tspan fontStyle="italic">p</tspan>-value</text>
        <T x={412} y={562.7} s="Day 1" rot={-90} fs={8.3} /><Ln x1={419.3} y1={536.7} x2={419.3} y2={593.3} />
        <T x={412} y={634.3} s="Day 5" rot={-90} fs={8.3} /><Ln x1={419.3} y1={611.7} x2={419.3} y2={669} />
        <T x={422} y={545} s="Oct4" fs={8} a="start" /><T x={422} y={566} s="O4" fs={8.5} a="start" /><T x={430} y={559} s="defS2" fs={6} a="start" /><T x={422} y={581.7} s="Oct6" fs={8} a="start" />
        <T x={422} y={621} s="Oct4" fs={8} a="start" /><T x={422} y={642.7} s="O4" fs={8.5} a="start" /><T x={430} y={635} s="defS2" fs={6} a="start" /><T x={422} y={658} s="Oct6" fs={8} a="start" />
        {[['SoxOct', 643.3, 544.3], ['Atf (AP-1)', 643.3, 563], ['MORE', 643.3, 582], ['SoxOct', 641, 621.7], ['MORE', 641, 642.7], ['MORE+1 bp', 641, 662.7]].map(([s, x, y]: any, i) => <T key={i} x={x} y={y} s={s} fs={8.3} a="end" />)}
        {[['1e–1776', 544.7], ['1e–1195', 563], ['1e–1924', 582], ['1e–1438', 621.7], ['1e–307', 642.7], ['1e–886', 662.7]].map(([s, y]: any, i) => <T key={i} x={680} y={y} s={s} fs={8.3} a="end" />)}
      </svg>
    </div>
  );
}
